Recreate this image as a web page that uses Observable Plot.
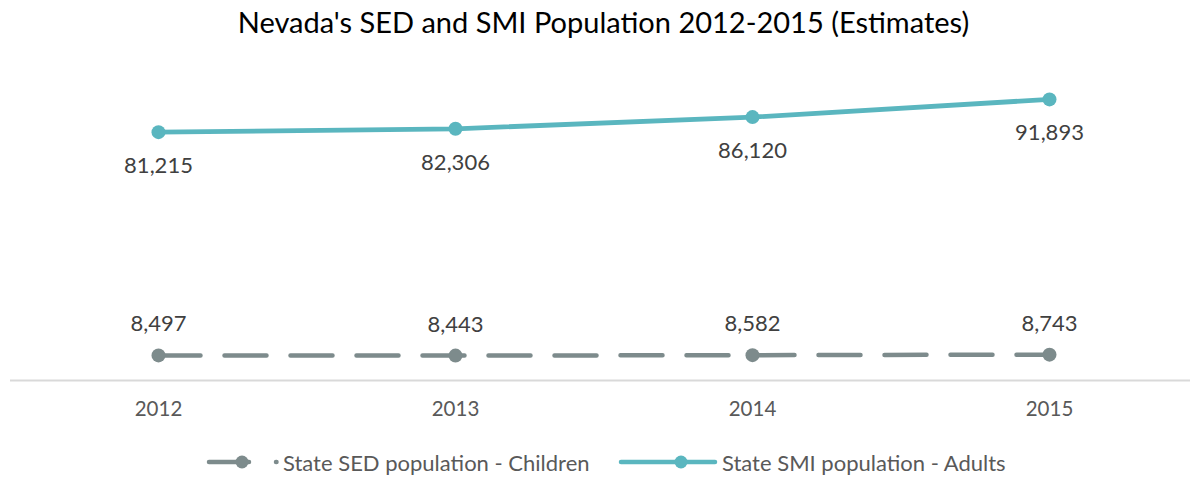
<!DOCTYPE html>
<html>
<head>
<meta charset="utf-8">
<script src="https://cdn.jsdelivr.net/npm/d3@7"></script>
<script src="https://cdn.jsdelivr.net/npm/@observablehq/plot@0.6"></script>
<style>
  body { margin: 0; background: #fff; font-family: Lato, "Open Sans", sans-serif; }
  #wrap { width: 1191px; height: 477px; position: relative; overflow: hidden; }
  #title { height: 48px; line-height: 44px; font-size: 29px; color: #000; text-align: center; padding-left: 16px; box-sizing: border-box; }
  #legend { position: relative; height: 39px; font-size: 22px; color: #595959; }
  .item { position: absolute; top: 12px; display: flex; align-items: center; height: 24px; }
  .item svg { display: block; }
</style>
</head>
<body>
<div id="wrap">
  <div id="title">Nevada's SED and SMI Population 2012-2015 (Estimates)</div>
  <div id="chart"></div>
  <div id="legend"></div>
</div>
<script>
const years = ["2012", "2013", "2014", "2015"];
const childrenSED = [8497, 8443, 8582, 8743];
const adultsSMI = [81215, 82306, 86120, 91893];
const seriesNames = ["State SED population - Children", "State SMI population - Adults"];
const colors = ["#7d8b8c", "#5ab6bf"];

const children = years.map((y, i) => ({year: y, value: childrenSED[i]}));
const adults = years.map((y, i) => ({year: y, value: adultsSMI[i]}));
const fmt = d3.format(",");

const chart = Plot.plot({
  width: 1191,
  height: 390,
  marginLeft: 10,
  marginRight: 1,
  marginTop: 0,
  marginBottom: 59,
  style: {fontFamily: "Lato, 'Open Sans', sans-serif", background: "#fff"},
  x: {type: "point", domain: years, range: [157, 1049], padding: 0},
  y: {domain: [0, 100000], range: [333, 26], axis: null},
  marks: [
    Plot.ruleY([0], {stroke: "#d9d9d9", strokeWidth: 2, dy: -1}),
    Plot.axisX({tickSize: 0, tickPadding: 22, fontSize: 20.5, color: "#595959", label: null}),
    Plot.line(children, {x: "year", y: "value", stroke: colors[0], strokeWidth: 4.5, strokeDasharray: "42,24", strokeLinecap: "round"}),
    Plot.dot(children, {x: "year", y: "value", r: 7, fill: colors[0]}),
    Plot.line(adults, {x: "year", y: "value", stroke: colors[1], strokeWidth: 4.8}),
    Plot.dot(adults, {x: "year", y: "value", r: 7, fill: colors[1]}),
    Plot.text(children, {x: "year", y: "value", text: d => fmt(d.value), dy: -31, fontSize: 22, fill: "#404040", lineAnchor: "middle"}),
    Plot.text(adults, {x: "year", y: "value", text: d => fmt(d.value), dy: 34, fontSize: 22, fill: "#404040", lineAnchor: "middle"})
  ]
});
document.getElementById("chart").appendChild(chart);

const legend = document.getElementById("legend");
const ns = "http://www.w3.org/2000/svg";
function sample(i) {
  const svg = document.createElementNS(ns, "svg");
  const w = i === 0 ? 77 : 104;
  svg.setAttribute("width", w);
  svg.setAttribute("height", 24);
  const line = document.createElementNS(ns, "line");
  line.setAttribute("x1", 3);
  line.setAttribute("x2", i === 0 ? 70.5 : 97);
  line.setAttribute("y1", 12);
  line.setAttribute("y2", 12);
  line.setAttribute("stroke", colors[i]);
  line.setAttribute("stroke-width", 4.5);
  line.setAttribute("stroke-linecap", "round");
  if (i === 0) line.setAttribute("stroke-dasharray", "40,27");
  svg.appendChild(line);
  const c = document.createElementNS(ns, "circle");
  c.setAttribute("cx", i === 0 ? 36 : 63);
  c.setAttribute("cy", 12);
  c.setAttribute("r", 6.5);
  c.setAttribute("fill", colors[i]);
  svg.appendChild(c);
  return svg;
}
[206, 618].forEach((left, i) => {
  const item = document.createElement("div");
  item.className = "item";
  item.style.left = left + "px";
  item.appendChild(sample(i));
  const t = document.createElement("span");
  t.textContent = seriesNames[i];
  item.appendChild(t);
  legend.appendChild(item);
});
</script>
</body>
</html>
